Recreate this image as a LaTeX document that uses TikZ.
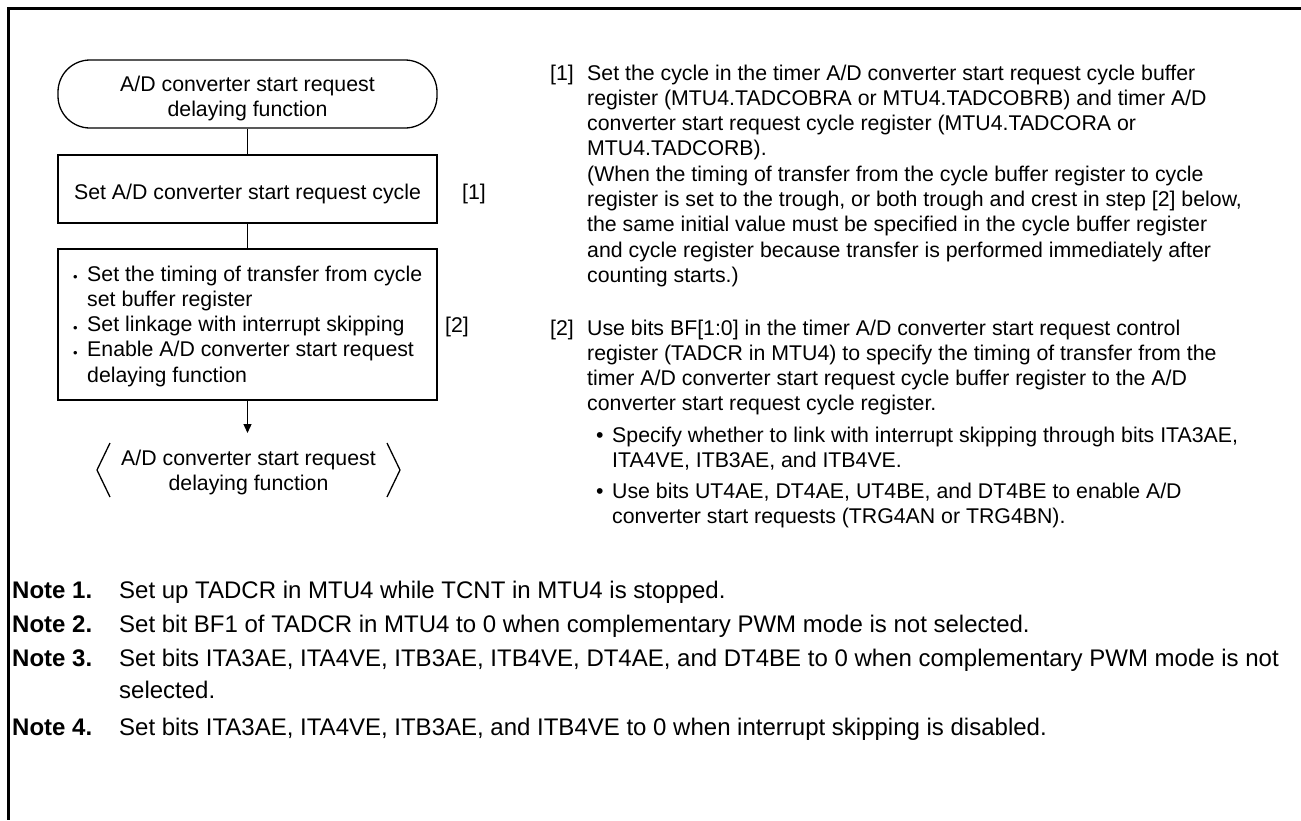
\documentclass[tikz,border=0pt]{standalone}
\usepackage{fontspec}
\setmainfont{Liberation Sans}
\usetikzlibrary{arrows.meta}
\begin{document}
\begin{tikzpicture}[x=1pt,y=-1pt,
  flow/.style={draw, line width=1.3pt, inner sep=0pt, minimum width=379pt},
  txt/.style={inner sep=0pt, anchor=base west, font=\fontsize{21.3}{25.3}\selectfont},
  ctxt/.style={inner sep=0pt, anchor=base, font=\fontsize{21.3}{25.3}\selectfont},
  ntxt/.style={inner sep=0pt, anchor=base west, font=\fontsize{24}{32}\selectfont},
  sbul/.style={inner sep=0pt, anchor=base west, font=\fontsize{13}{13}\selectfont},
  conn/.style={line width=1.3pt},
  frame/.style={line width=3pt},
]
\useasboundingbox (0,0) rectangle (1301,820);
% frame
\coordinate (ftr) at (1301,8.5);
\coordinate (ftl) at (8.5,8.5);
\coordinate (fbl) at (8.5,820);
\draw[frame] (ftr) -- (ftl) -- (fbl);

% flowchart
\node[flow, rounded corners=32pt, minimum height=68pt] (start) at (247.5,94) {};
\node[ctxt] (starttxt) at (247.5,91) {\begin{tabular}[t]{@{}c@{}}A/D converter start request\\delaying function\end{tabular}};

\node[flow, minimum height=68pt] (box1) at (247.5,189) {};
\node[ctxt] (box1txt) at (247.5,199) {Set A/D converter start request cycle};
\node[txt] (lab1) at (462,199) {[1]};

\node[flow, minimum height=151pt] (box2) at (247.5,324.5) {};
\node[sbul] (b1) at (73,281) {•};
\node[sbul] (b2) at (73,332) {•};
\node[sbul] (b3) at (73,357) {•};
\node[txt] (box2txt) at (87,281) {\begin{tabular}[t]{@{}l@{}}Set the timing of transfer from cycle\\set buffer register\\Set linkage with interrupt skipping\\Enable A/D converter start request\\delaying function\end{tabular}};
\node[txt] (lab2) at (445,332) {[2]};

\coordinate (endtip) at (247.5,433);
\node[ctxt] (stoptxt) at (248.5,465) {\begin{tabular}[t]{@{}c@{}}A/D converter start request\\delaying function\end{tabular}};
\draw[conn] (110,443) -- (97,470) -- (110,497);
\draw[conn] (387,443) -- (400,470) -- (387,497);

\draw[conn] (start.south) -- (box1.north);
\draw[conn] (box1.south) -- (box2.north);
\draw[conn, -{Triangle[length=9pt,width=8pt]}] (box2.south) -- (endtip);

% right-hand description
\node[txt] (d1) at (550,80) {[1]};
\node[txt] (d1txt) at (587,80) {\begin{tabular}[t]{@{}l@{}}Set the cycle in the timer A/D converter start request cycle buffer\\register (MTU4.TADCOBRA or MTU4.TADCOBRB) and timer A/D\\converter start request cycle register (MTU4.TADCORA or\\MTU4.TADCORB).\\(When the timing of transfer from the cycle buffer register to cycle\\register is set to the trough, or both trough and crest in step [2] below,\\the same initial value must be specified in the cycle buffer register\\and cycle register because transfer is performed immediately after\\counting starts.)\end{tabular}};

\node[txt] (d2) at (550,335) {[2]};
\node[txt] (d2txt) at (587,335) {\begin{tabular}[t]{@{}l@{}}Use bits BF[1:0] in the timer A/D converter start request control\\register (TADCR in MTU4) to specify the timing of transfer from the\\timer A/D converter start request cycle buffer register to the A/D\\converter start request cycle register.\end{tabular}};
\node[txt] (rb1) at (596,442) {•};
\node[txt] (rb1txt) at (612,442) {\begin{tabular}[t]{@{}l@{}}Specify whether to link with interrupt skipping through bits ITA3AE,\\ITA4VE, ITB3AE, and ITB4VE.\end{tabular}};
\node[txt] (rb2) at (596,498) {•};
\node[txt] (rb2txt) at (612,498) {\begin{tabular}[t]{@{}l@{}}Use bits UT4AE, DT4AE, UT4BE, and DT4BE to enable A/D\\converter start requests (TRG4AN or TRG4BN).\end{tabular}};

% notes
\node[ntxt] (n1) at (12,598) {\textbf{Note 1.}};
\node[ntxt] (n1t) at (119,598) {Set up TADCR in MTU4 while TCNT in MTU4 is stopped.};
\node[ntxt] (n2) at (12,632) {\textbf{Note 2.}};
\node[ntxt] (n2t) at (119,632) {Set bit BF1 of TADCR in MTU4 to 0 when complementary PWM mode is not selected.};
\node[ntxt] (n3) at (12,666) {\textbf{Note 3.}};
\node[ntxt] (n3t) at (119,666) {\begin{tabular}[t]{@{}l@{}}Set bits ITA3AE, ITA4VE, ITB3AE, ITB4VE, DT4AE, and DT4BE to 0 when complementary PWM mode is not\\selected.\end{tabular}};
\node[ntxt] (n4) at (12,735) {\textbf{Note 4.}};
\node[ntxt] (n4t) at (119,735) {Set bits ITA3AE, ITA4VE, ITB3AE, and ITB4VE to 0 when interrupt skipping is disabled.};
\end{tikzpicture}
\end{document}
